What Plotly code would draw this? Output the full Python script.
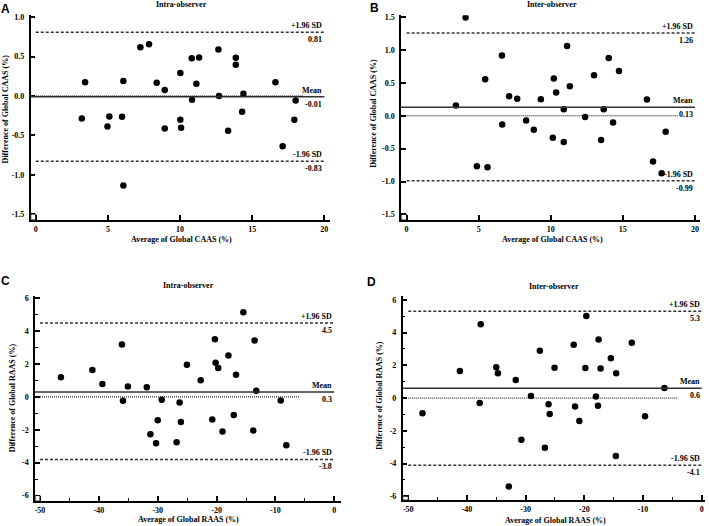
import plotly.graph_objects as go

W, H = 709, 526

# ---------------- data ----------------
# Panel A: intra-observer, Global CAAS
a_avg = [3.19, 3.42, 4.97, 5.10, 5.98, 6.07, 6.07, 7.25, 7.85, 8.38, 8.94, 8.94, 10.02, 10.02, 10.07,
         10.81, 10.83, 11.13, 11.32, 12.66, 12.70, 13.33, 13.86, 13.86, 14.30, 14.39, 16.61, 17.11, 17.92, 18.01]
a_diff = [-0.286, 0.173, -0.387, -0.261, -0.265, 0.189, -1.137, 0.619, 0.657, 0.168, 0.076, -0.413, 0.29, -0.303, -0.404,
          0.48, -0.05, 0.156, 0.488, 0.589, 0.0, -0.442, 0.484, 0.396, -0.202, 0.029, 0.173, -0.64, -0.303, -0.059]
a_stats = [0.81, -0.01, -0.83]   # +1.96 SD, mean, -1.96 SD
a_stat_text = ["0.81", "-0.01", "-0.83"]

# Panel B: inter-observer, Global CAAS
b_avg = [4.09, 3.42, 4.87, 5.61, 5.45, 6.61, 6.63, 7.11, 7.67, 8.29, 8.82, 9.31, 10.14, 10.21, 10.37,
         10.90, 10.90, 11.13, 11.32, 12.38, 13.00, 13.49, 13.67, 14.02, 14.32, 14.73, 16.67, 17.09, 17.69, 17.97]
b_diff = [1.495, 0.157, -0.768, -0.783, 0.556, 0.919, -0.131, 0.298, 0.258, -0.071, -0.212, 0.253, -0.333, 0.566, 0.354,
          0.101, -0.399, 1.061, 0.449, -0.02, 0.616, -0.369, 0.101, 0.879, -0.101, 0.682, 0.247, -0.697, -0.874, -0.242]
b_stats = [1.26, 0.13, -0.99]
b_stat_text = ["1.26", "0.13", "-0.99"]

# Panel C: intra-observer, Global RAAS
c_avg = [-46.45, -41.1, -39.4, -36.08, -35.9, -35.07, -31.86, -31.24, -30.28, -30.0, -29.32, -26.79, -26.28, -26.06, -25.04,
         -22.70, -20.73, -20.28, -20.17, -19.72, -18.99, -17.98, -17.08, -16.69, -15.45, -13.76, -13.54, -13.26, -9.10, -8.15]
c_diff = [1.20, 1.64, 0.79, 3.18, -0.24, 0.63, 0.59, -2.27, -2.82, -1.42, -0.18, -2.76, -0.34, -1.52, 1.95,
          1.01, -1.38, 3.51, 2.07, 1.76, -2.11, 2.52, -1.10, 1.34, 5.15, -2.05, 3.43, 0.37, -0.22, -2.94]
c_stats = [4.5, 0.3, -3.8]
c_stat_text = ["4.5", "0.3", "-3.8"]

# Panel D: inter-observer, Global RAAS
d_avg = [-47.58, -41.21, -37.83, -37.66, -35.01, -34.73, -31.69, -30.73, -29.1, -32.87, -27.58, -26.1, -25.9, -26.72, -25.08,
         -21.81, -21.58, -20.85, -19.83, -19.66, -18.02, -17.68, -17.57, -17.23, -15.48, -14.63, -14.58, -11.92, -9.66, -6.35]
d_diff = [-0.93, 1.66, -0.30, 4.51, 1.88, 1.52, 1.11, -2.55, 0.12, -5.40, 2.89, -0.38, -0.97, -3.04, 1.86,
          3.26, -0.51, -1.40, 1.84, 5.02, 0.10, -0.47, 3.58, 1.80, 2.43, -3.54, 1.52, 3.38, -1.11, 0.61]
d_stats = [5.3, 0.6, -4.1]
d_stat_text = ["5.3", "0.6", "-4.1"]

caas_xticks = [0, 5, 10, 15, 20]
caas_xtext = ["0", "5", "10", "15", "20"]
caas_yticks = [-1.5, -1.0, -0.5, 0.0, 0.5, 1.0]
caas_ytext = ["-1.5", "-1.0", "-0.5", "0.0", "0.5", "1.0"]
caas_b_yticks = [-1.5, -1.0, -0.5, 0.0, 0.5, 1.0, 1.5]
caas_b_ytext = ["-1.5", "-1.0", "-0.5", "0.0", "0.5", "1.0", "1.5"]
raas_xticks = [-50, -40, -30, -20, -10, 0]
raas_xtext = ["-50", "-40", "-30", "-20", "-10", "0"]
raas_yticks = [-6, -4, -2, 0, 2, 4, 6]
raas_ytext = ["-6", "-4", "-2", "0", "2", "4", "6"]

panel_letters = ["A", "B", "C", "D"]
panel_titles = ["Intra-observer", "Inter-observer", "Intra-observer", "Inter-observer"]
x_titles = ["Average of Global CAAS (%)", "Average of Global CAAS (%)",
            "Average of Global RAAS (%)", "Average of Global RAAS (%)"]
y_titles = ["Difference of Global CAAS (%)", "Difference of Global CAAS (%)",
            "Difference of Global RAAS (%)", "Difference of Global RAAS (%)"]
stat_labels = ["+1.96 SD", "Mean", "-1.96 SD"]

# ---------------- layout config (pixels) ----------------
panels = [
    dict(x=a_avg, y=a_diff, stats=a_stats, stxt=a_stat_text, xd=(30.7, 330.0), yd=(13.3, 219.3), xr=(-0.35, 20.39),
         yr=(-1.576, 1.025), xt=(caas_xticks, caas_xtext), yt=(caas_yticks, caas_ytext), minor=None, dot_end=18.5,
         letter=(5, 7), title=(181.7, 2.5), xtitle=(181.7, 238.5), ytitle=(5, 108)),
    dict(x=b_avg, y=b_diff, stats=b_stats, stxt=b_stat_text, xd=(401.0, 700.0), yd=(13.3, 219.3), xr=(-0.39, 20.35),
         yr=(-1.586, 1.53), xt=(caas_xticks, caas_xtext), yt=(caas_b_yticks, caas_b_ytext), minor=None, dot_end=18.8,
         letter=(375, 6), title=(552.3, 2.5), xtitle=(552.3, 238.7), ytitle=(373.3, 112)),
    dict(x=c_avg, y=c_diff, stats=c_stats, stxt=c_stat_text, xd=(35.0, 340.7), yd=(295.3, 502.0), xr=(-50.85, 1.09),
         yr=(-6.34, 6.16), xt=(raas_xticks, raas_xtext), yt=(raas_yticks, raas_ytext), minor=(5, 1), dot_end=-5.8,
         letter=(5, 281), title=(189, 285), xtitle=(189, 520.3), ytitle=(12.7, 397.7)),
    dict(x=d_avg, y=d_diff, stats=d_stats, stxt=d_stat_text, xd=(402.7, 705.0), yd=(296.0, 501.0), xr=(-50.95, 0.56),
         yr=(-6.24, 6.22), xt=(raas_xticks, raas_xtext), yt=(raas_yticks, raas_ytext), minor=(5, 1), dot_end=-4.0,
         letter=(371.7, 281.5), title=(554, 286), xtitle=(555, 521), ytitle=(380, 396)),
]

SERIF = "Liberation Serif"
SANS = "Liberation Sans"
FS = 8

fig = go.Figure()
shapes = []
annotations = []


def px(xp):
    return xp / W


def py(yp):
    return 1 - yp / H


for i, p in enumerate(panels):
    n = "" if i == 0 else str(i + 1)
    xa, ya = "x" + n, "y" + n
    fig.add_trace(go.Scatter(x=p["x"], y=p["y"], mode="markers", xaxis=xa, yaxis=ya,
                             marker=dict(color="black", size=6.5, line=dict(width=0)),
                             showlegend=False, hoverinfo="x+y"))
    axis_common = dict(showline=True, linecolor="black", linewidth=1.5, ticks="inside", ticklen=5,
                       tickwidth=1.5, tickcolor="black", showgrid=False, zeroline=False,
                       tickfont=dict(family=SERIF, size=FS, color="black", weight="bold"))
    xaxis = dict(axis_common, domain=[px(p["xd"][0]), px(p["xd"][1])], range=list(p["xr"]),
                 tickvals=p["xt"][0], ticktext=p["xt"][1], anchor=ya, ticklabelstandoff=1)
    yaxis = dict(axis_common, domain=[py(p["yd"][1]), py(p["yd"][0])], range=list(p["yr"]),
                 tickvals=p["yt"][0], ticktext=p["yt"][1], anchor=xa, ticklabelstandoff=3)
    if p["minor"]:
        xaxis["minor"] = dict(dtick=p["minor"][0], ticks="inside", ticklen=3, tickwidth=1, tickcolor="black",
                              showgrid=False, tick0=0)
        yaxis["minor"] = dict(dtick=p["minor"][1], ticks="inside", ticklen=3, tickwidth=1, tickcolor="black",
                              showgrid=False, tick0=0)
    fig.update_layout(**{"xaxis" + n: xaxis, "yaxis" + n: yaxis})

    x0, x1 = p["xt"][0][0], p["xt"][0][-1]
    up, mean, lo = p["stats"]
    # limits of agreement (dashed)
    for v in (up, lo):
        shapes.append(dict(type="line", xref=xa, yref=ya, x0=x0, x1=x1, y0=v, y1=v,
                           line=dict(color="#333333", width=1.5, dash="3px,2px")))
    # mean line (solid)
    shapes.append(dict(type="line", xref=xa, yref=ya, x0=p["xr"][0], x1=x1, y0=mean, y1=mean,
                       line=dict(color="#333333", width=1.5)))
    # zero line (dotted)
    shapes.append(dict(type="line", xref=xa, yref=ya, x0=x0, x1=p["dot_end"], y0=0, y1=0,
                       line=dict(color="black", width=1, dash="1px,1px")))
    # corner box
    shapes.append(dict(type="rect", xref=xa, yref=ya, x0=p["xr"][0], x1=x0, y0=p["yr"][0], y1=p["yt"][0][0],
                       line=dict(color="black", width=1), fillcolor="white"))

    # labels on lines
    for v, lab, vt in zip(p["stats"], stat_labels, p["stxt"]):
        annotations.append(dict(xref=xa, yref=ya, x=x1, y=v, text=lab, showarrow=False, xanchor="right",
                                yanchor="bottom", yshift=0,
                                font=dict(family=SERIF, size=FS, color="black", weight="bold")))
        annotations.append(dict(xref=xa, yref=ya, x=x1, y=v, text=vt, showarrow=False, xanchor="right",
                                yanchor="top", yshift=-1,
                                font=dict(family=SERIF, size=FS, color="black", weight="bold")))

    # titles
    annotations.append(dict(xref="paper", yref="paper", x=px(p["title"][0]), y=py(p["title"][1]),
                            text=panel_titles[i], showarrow=False, xanchor="center", yanchor="middle",
                            font=dict(family=SERIF, size=FS, color="black", weight="bold")))
    annotations.append(dict(xref="paper", yref="paper", x=px(p["xtitle"][0]), y=py(p["xtitle"][1]),
                            text=x_titles[i], showarrow=False, xanchor="center", yanchor="middle",
                            font=dict(family=SERIF, size=FS, color="black", weight="bold")))
    annotations.append(dict(xref="paper", yref="paper", x=px(p["ytitle"][0]), y=py(p["ytitle"][1]),
                            text=y_titles[i], showarrow=False, xanchor="center", yanchor="middle",
                            textangle=-90, font=dict(family=SERIF, size=FS, color="black", weight="bold")))
    annotations.append(dict(xref="paper", yref="paper", x=px(p["letter"][0]), y=py(p["letter"][1]),
                            text=panel_letters[i], showarrow=False, xanchor="center", yanchor="middle",
                            font=dict(family=SANS, size=12, color="black", weight="bold")))

fig.update_layout(width=W, height=H, margin=dict(l=0, r=0, t=0, b=0),
                  paper_bgcolor="white", plot_bgcolor="white",
                  shapes=shapes, annotations=annotations, showlegend=False)

fig.write_html("out.html", config={"displayModeBar": False},
               post_script="document.body.style.margin='0';document.body.style.padding='0';"
                           "document.documentElement.style.overflow='hidden';")
